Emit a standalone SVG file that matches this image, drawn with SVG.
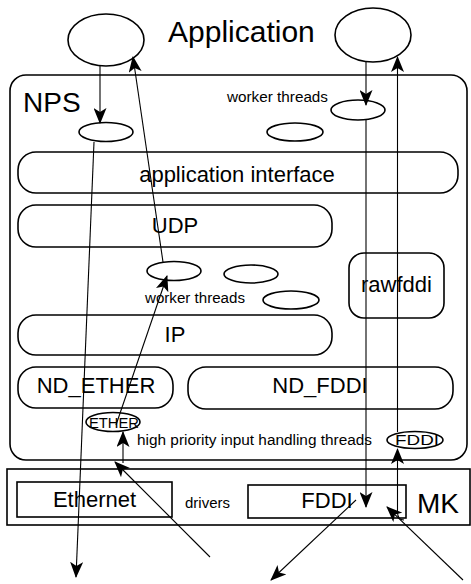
<svg xmlns="http://www.w3.org/2000/svg" width="471" height="584" viewBox="0 0 471 584">
<style>
.s{fill:none;stroke:#000;stroke-width:1.6}
.e{fill:#fff;stroke:#000;stroke-width:1.6}
.t{font-family:"Liberation Sans",Arial,Helvetica,sans-serif;fill:#000}
.c{fill:none;stroke:#000;stroke-width:1.1}
</style>
<defs>
<marker id="a" markerUnits="userSpaceOnUse" markerWidth="16" markerHeight="13" refX="15" refY="6.5" orient="auto">
<path d="M0,0 L16,6.5 L0,13 L4,6.5 Z" fill="#000"/>
</marker>
</defs>
<rect x="0" y="0" width="471" height="584" fill="#fff"/>
<g id="app-left"><ellipse class="e" cx="106" cy="40" rx="38" ry="26"/></g>
<g id="app-right"><ellipse class="e" cx="373" cy="35" rx="38" ry="27"/></g>
<text class="t" x="168" y="42" font-size="30">Application</text>
<g id="nps">
<rect class="s" x="10" y="75" width="457" height="385" rx="16"/>
<text class="t" x="23" y="112" font-size="28">NPS</text>
</g>
<text class="t" x="227" y="102" font-size="14" textLength="101" lengthAdjust="spacingAndGlyphs">worker threads</text>
<g id="wt-nps"><ellipse class="e" cx="106" cy="132" rx="27" ry="9.5"/></g>
<g id="wt-top1"><ellipse class="e" cx="358" cy="110" rx="27" ry="10"/></g>
<g id="wt-top2"><ellipse class="e" cx="295" cy="132" rx="28" ry="9"/></g>
<g id="app-if">
<rect class="s" x="18" y="152" width="440" height="41" rx="18"/>
<text class="t" x="237" y="182" font-size="22" text-anchor="middle">application interface</text>
</g>
<g id="udp">
<rect class="s" x="18" y="205" width="314" height="42" rx="18"/>
<text class="t" x="175" y="233" font-size="22" text-anchor="middle">UDP</text>
</g>
<g id="wt-mid1"><ellipse class="e" cx="174" cy="271" rx="27" ry="9.5"/></g>
<g id="wt-mid2"><ellipse class="e" cx="251" cy="274" rx="27" ry="9"/></g>
<g id="wt-mid3"><ellipse class="e" cx="291" cy="300" rx="28" ry="9"/></g>
<text class="t" x="145" y="303" font-size="14" textLength="100" lengthAdjust="spacingAndGlyphs">worker threads</text>
<g id="ip">
<rect class="s" x="18" y="315" width="314" height="40" rx="18"/>
<text class="t" x="175" y="342" font-size="22" text-anchor="middle">IP</text>
</g>
<g id="rawfddi">
<rect class="s" x="349" y="253" width="95" height="65" rx="15"/>
<text class="t" x="396.5" y="292" font-size="22" text-anchor="middle">rawfddi</text>
</g>
<g id="nd-ether">
<rect class="s" x="18" y="367" width="155" height="41" rx="18"/>
<text class="t" x="96" y="393" font-size="22" text-anchor="middle">ND_ETHER</text>
</g>
<g id="nd-fddi">
<rect class="s" x="188" y="367" width="265" height="42" rx="18"/>
<text class="t" x="320" y="393" font-size="22" text-anchor="middle">ND_FDDI</text>
</g>
<g id="ether-thread">
<ellipse class="e" cx="113" cy="422" rx="27" ry="9.5"/>
<text class="t" x="89" y="427.5" font-size="15" textLength="50" lengthAdjust="spacingAndGlyphs">ETHER</text>
</g>
<g id="fddi-thread">
<ellipse class="e" cx="415" cy="440" rx="28" ry="8.5"/>
<text class="t" x="395" y="445" font-size="14" textLength="44" lengthAdjust="spacingAndGlyphs">FDDI</text>
</g>
<text class="t" x="137" y="445" font-size="14" textLength="235" lengthAdjust="spacingAndGlyphs">high priority input handling threads</text>
<g id="mk">
<rect class="s" x="7" y="469" width="463" height="56"/>
<text class="t" x="417" y="513" font-size="28">MK</text>
</g>
<g id="ethernet">
<rect class="s" x="17" y="482" width="155" height="35"/>
<text class="t" x="94.5" y="507" font-size="22" text-anchor="middle">Ethernet</text>
</g>
<text class="t" x="185" y="508" font-size="15">drivers</text>
<g id="fddi-drv">
<rect class="s" x="248" y="485" width="158" height="33"/>
<text class="t" x="327" y="508" font-size="22" text-anchor="middle">FDDI</text>
</g>
<g id="connectors">
<line class="c" x1="100" y1="66" x2="100" y2="123" marker-end="url(#a)"/>
<line class="c" x1="94" y1="142" x2="76" y2="577" marker-end="url(#a)"/>
<line class="c" x1="163" y1="262" x2="133" y2="57" marker-end="url(#a)"/>
<line class="c" x1="116" y1="425" x2="167" y2="276" marker-end="url(#a)"/>
<line class="c" x1="123" y1="463" x2="123" y2="432" marker-end="url(#a)"/>
<line class="c" x1="210" y1="557" x2="115" y2="462" marker-end="url(#a)"/>
<line class="c" x1="366" y1="62" x2="366" y2="105" marker-end="url(#a)"/>
<line class="c" x1="366" y1="120" x2="366" y2="507" marker-end="url(#a)"/>
<line class="c" x1="397.5" y1="432" x2="397.5" y2="57" marker-end="url(#a)"/>
<path class="c" d="M404,520 Q397.5,520 397.5,512 L397.5,449" marker-end="url(#a)"/>
<line class="c" x1="356" y1="500" x2="271" y2="580" marker-end="url(#a)"/>
<line class="c" x1="463" y1="580" x2="387" y2="507" marker-end="url(#a)"/>
</g>
</svg>
